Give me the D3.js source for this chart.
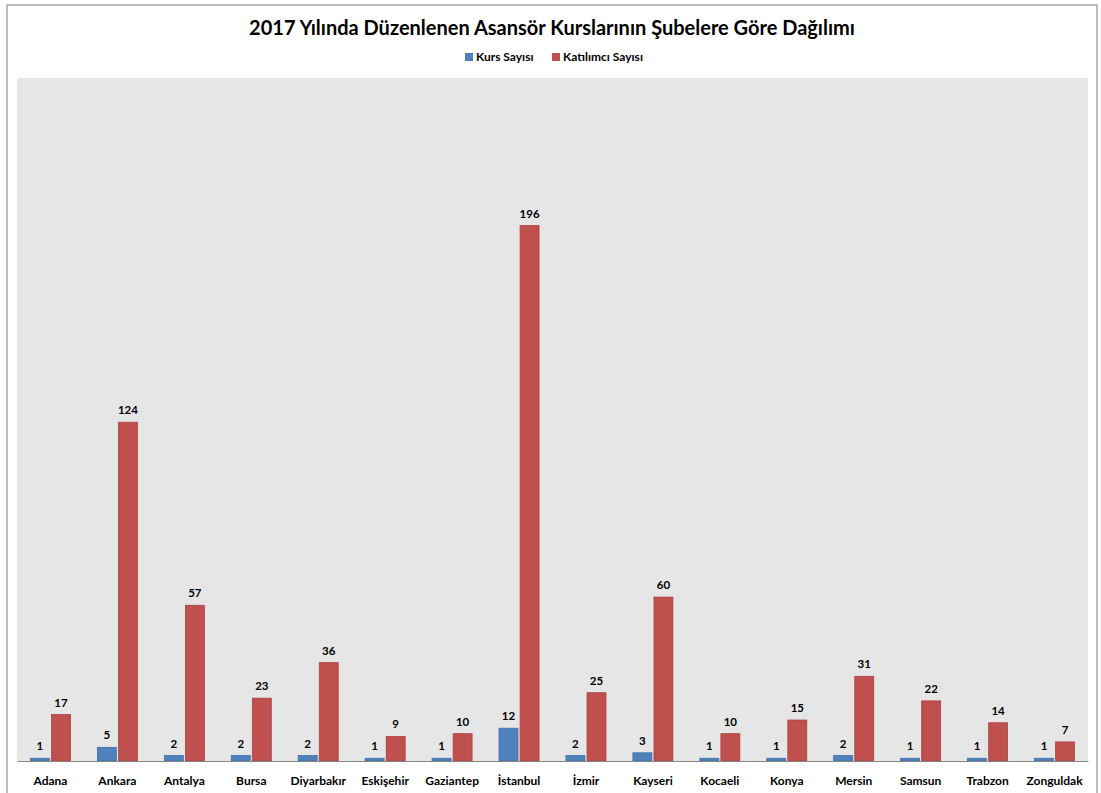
<!DOCTYPE html>
<html>
<head>
<meta charset="utf-8">
<script src="https://cdn.jsdelivr.net/npm/d3@7"></script>
<style>
  body { margin: 0; background: #fff; }
  svg text { font-family: Lato, "Open Sans", sans-serif; }
</style>
</head>
<body>
<div id="chart"></div>
<script>
// ---- data ----
const cities = ["Adana", "Ankara", "Antalya", "Bursa", "Diyarbakır", "Eskişehir", "Gaziantep", "İstanbul",
  "İzmir", "Kayseri", "Kocaeli", "Konya", "Mersin", "Samsun", "Trabzon", "Zonguldak"];
const kursSayisi = [1, 5, 2, 2, 2, 1, 1, 12, 2, 3, 1, 1, 2, 1, 1, 1];
const katilimciSayisi = [17, 124, 57, 23, 36, 9, 10, 196, 25, 60, 10, 15, 31, 22, 14, 7];
const seriesNames = ["Kurs Sayısı", "Katılımcı Sayısı"];
const seriesColors = ["#4f81bd", "#c0504d"];
const seriesStroke = ["#3f6ea6", "#a9423f"];

const rows = cities.map((c, i) => ({ city: c, values: [kursSayisi[i], katilimciSayisi[i]] }));

// ---- setup ----
const W = 1101, H = 793;
const plot = { left: 17, right: 1088, top: 78, bottom: 761 };

const svg = d3.select("#chart").append("svg")
  .attr("width", W).attr("height", H);

// outer chart frame
svg.append("rect")
  .attr("x", 7).attr("y", 5)
  .attr("width", 1090).attr("height", 800)
  .attr("fill", "none")
  .attr("stroke", "#a6a6a6")
  .attr("stroke-width", 1.5);

svg.append("rect")
  .attr("x", plot.left).attr("y", plot.top)
  .attr("width", plot.right - plot.left)
  .attr("height", plot.bottom - plot.top)
  .attr("fill", "#e6e6e6");

svg.append("text")
  .attr("x", 552).attr("y", 35)
  .attr("text-anchor", "middle")
  .style("font-size", "20px")
  .style("font-weight", "bold")
  .attr("fill", "#000")
  .text("2017 Yılında Düzenlenen Asansör Kurslarının Şubelere Göre Dağılımı");

// legend
const legendX = [465, 552];
seriesNames.forEach((n, i) => {
  svg.append("rect")
    .attr("x", legendX[i]).attr("y", 53)
    .attr("width", 8).attr("height", 8)
    .attr("fill", seriesColors[i]);
  svg.append("text")
    .attr("x", legendX[i] + 11).attr("y", 61)
    .style("font-size", "12px")
    .style("font-weight", "bold")
    .attr("fill", "#000")
    .text(n);
});

// scales
const x = d3.scaleBand()
  .domain(cities)
  .range([plot.left, plot.right]);

const x1 = d3.scaleBand()
  .domain([0, 1])
  .range([0, 40])
  .paddingInner(0.1);

const y = d3.scaleLinear()
  .domain([0, 250])
  .range([plot.bottom, plot.top]);

const groups = svg.selectAll(".grp")
  .data(rows)
  .join("g")
  .attr("class", "grp")
  .attr("transform", d => `translate(${x(d.city) + x.bandwidth() / 2 - 20},0)`);

groups.selectAll("rect")
  .data(d => d.values)
  .join("rect")
  .attr("x", (d, i) => x1(i))
  .attr("y", d => y(d))
  .attr("width", x1.bandwidth())
  .attr("height", d => plot.bottom - y(d))
  .attr("fill", (d, i) => seriesColors[i])
  .attr("stroke", (d, i) => seriesStroke[i])
  .attr("stroke-width", 0.8);

groups.selectAll(".val")
  .data(d => d.values)
  .join("text")
  .attr("class", "val")
  .attr("x", (d, i) => x1(i) + x1.bandwidth() / 2)
  .attr("y", d => y(d) - 8)
  .attr("text-anchor", "middle")
  .style("font-size", "11.5px")
  .style("font-weight", "bold")
  .attr("fill", "#000")
  .text(d => d);

// x axis
const xAxis = svg.append("g")
  .attr("transform", `translate(0,${plot.bottom})`)
  .call(d3.axisBottom(x).tickSize(0).tickPadding(15));
xAxis.select(".domain").attr("stroke", "#868686").attr("stroke-width", 1.2);
xAxis.selectAll("text")
  .style("font-size", "12px")
  .style("font-weight", "bold")
  .style("font-family", "Lato, 'Open Sans', sans-serif")
  .attr("fill", "#000");
</script>
</body>
</html>
